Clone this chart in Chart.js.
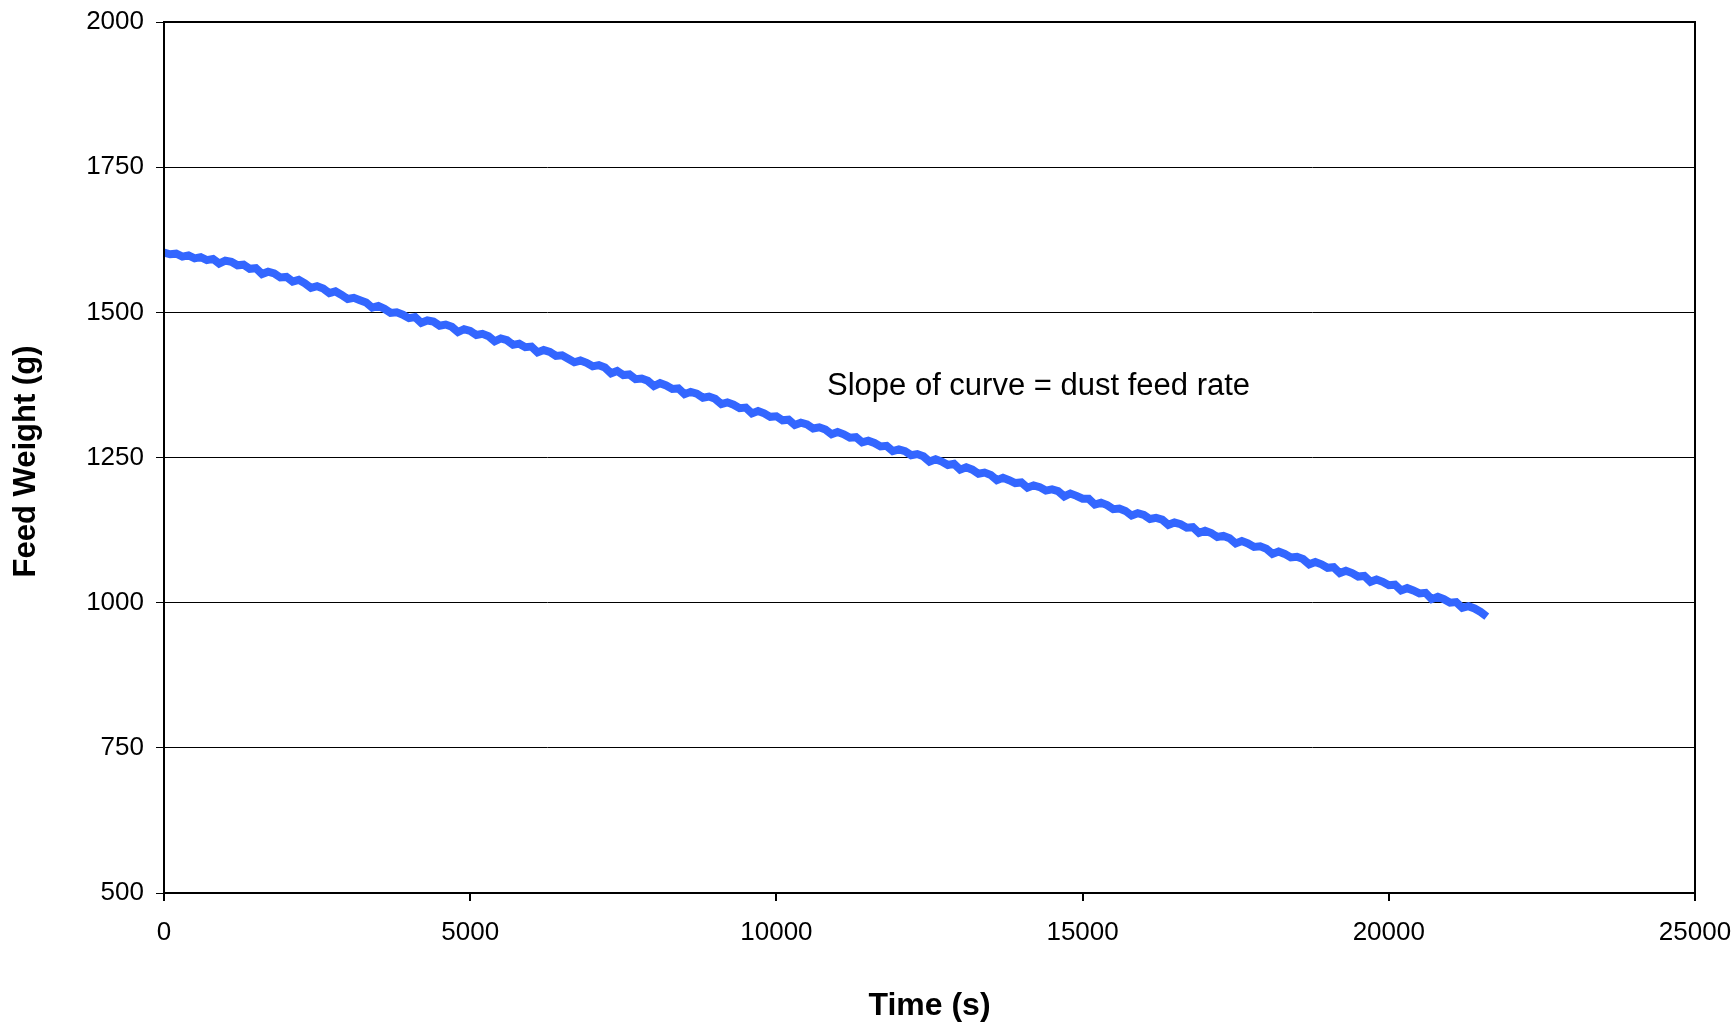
<!DOCTYPE html>
<html>
<head>
<meta charset="utf-8">
<script src="https://cdn.jsdelivr.net/npm/chart.js@4.4.1/dist/chart.umd.min.js"></script>
<style>
  html, body { margin: 0; padding: 0; background: #fff; }
  #wrap { width: 1734px; height: 1024px; }
</style>
</head>
<body>
<div id="wrap"><canvas id="canvas-feed-weight" width="1734" height="1024"></canvas></div>
<script>
// time (s), read every 100 s along the trace
const times = [
  0, 100, 200, 300, 400, 500, 600, 700, 800, 900,
  1000, 1100, 1200, 1300, 1400, 1500, 1600, 1700, 1800, 1900,
  2000, 2100, 2200, 2300, 2400, 2500, 2600, 2700, 2800, 2900,
  3000, 3100, 3200, 3300, 3400, 3500, 3600, 3700, 3800, 3900,
  4000, 4100, 4200, 4300, 4400, 4500, 4600, 4700, 4800, 4900,
  5000, 5100, 5200, 5300, 5400, 5500, 5600, 5700, 5800, 5900,
  6000, 6100, 6200, 6300, 6400, 6500, 6600, 6700, 6800, 6900,
  7000, 7100, 7200, 7300, 7400, 7500, 7600, 7700, 7800, 7900,
  8000, 8100, 8200, 8300, 8400, 8500, 8600, 8700, 8800, 8900,
  9000, 9100, 9200, 9300, 9400, 9500, 9600, 9700, 9800, 9900,
  10000, 10100, 10200, 10300, 10400, 10500, 10600, 10700, 10800, 10900,
  11000, 11100, 11200, 11300, 11400, 11500, 11600, 11700, 11800, 11900,
  12000, 12100, 12200, 12300, 12400, 12500, 12600, 12700, 12800, 12900,
  13000, 13100, 13200, 13300, 13400, 13500, 13600, 13700, 13800, 13900,
  14000, 14100, 14200, 14300, 14400, 14500, 14600, 14700, 14800, 14900,
  15000, 15100, 15200, 15300, 15400, 15500, 15600, 15700, 15800, 15900,
  16000, 16100, 16200, 16300, 16400, 16500, 16600, 16700, 16800, 16900,
  17000, 17100, 17200, 17300, 17400, 17500, 17600, 17700, 17800, 17900,
  18000, 18100, 18200, 18300, 18400, 18500, 18600, 18700, 18800, 18900,
  19000, 19100, 19200, 19300, 19400, 19500, 19600, 19700, 19800, 19900,
  20000, 20100, 20200, 20300, 20400, 20500, 20600, 20700, 20800, 20900,
  21000, 21100, 21200, 21300, 21400, 21500, 21600
];
// feed weight (g)
const weights = [
  1603, 1600, 1601, 1596, 1598, 1593, 1595, 1590, 1592, 1584,
  1589, 1587, 1581, 1582, 1575, 1576, 1566, 1570, 1567, 1560,
  1561, 1553, 1556, 1550, 1542, 1545, 1541, 1533, 1536, 1530,
  1523, 1525, 1521, 1517, 1508, 1511, 1506, 1499, 1500, 1496,
  1490, 1492, 1482, 1486, 1484, 1477, 1479, 1475, 1466, 1471,
  1468, 1461, 1463, 1459, 1450, 1455, 1452, 1444, 1446, 1440,
  1441, 1431, 1435, 1432, 1425, 1426, 1420, 1414, 1417, 1413,
  1407, 1409, 1405, 1395, 1399, 1392, 1393, 1385, 1386, 1382,
  1373, 1378, 1374, 1368, 1369, 1359, 1363, 1360, 1353, 1355,
  1351, 1342, 1345, 1341, 1335, 1336, 1326, 1330, 1326, 1320,
  1321, 1314, 1315, 1306, 1310, 1307, 1300, 1302, 1298, 1290,
  1294, 1290, 1284, 1285, 1276, 1279, 1275, 1269, 1270, 1261,
  1264, 1261, 1254, 1256, 1252, 1243, 1247, 1243, 1237, 1239,
  1229, 1233, 1229, 1222, 1224, 1220, 1211, 1215, 1211, 1206,
  1207, 1198, 1202, 1199, 1193, 1195, 1192, 1183, 1188, 1184,
  1179, 1179, 1169, 1172, 1168, 1161, 1162, 1158, 1150, 1154,
  1151, 1144, 1146, 1143, 1134, 1138, 1135, 1129, 1130, 1120,
  1124, 1120, 1113, 1115, 1111, 1102, 1106, 1102, 1096, 1097,
  1093, 1084, 1088, 1084, 1078, 1079, 1075, 1066, 1070, 1066,
  1060, 1061, 1051, 1055, 1051, 1045, 1046, 1036, 1040, 1036,
  1030, 1031, 1021, 1025, 1021, 1016, 1017, 1006, 1010, 1006,
  1000, 1001, 991, 994, 990, 984, 976
];
const xTicks = [0, 5000, 10000, 15000, 20000, 25000];
const yTicks = [500, 750, 1000, 1250, 1500, 1750, 2000];
const xTitle = "Time (s)";
const yTitle = "Feed Weight (g)";
const note = "Slope of curve = dust feed rate";

const FONT = "'Liberation Sans', Arial, sans-serif";

const extras = {
  id: "extras",
  afterDraw(chart) {
    const { ctx, chartArea: a } = chart;
    ctx.save();
    ctx.strokeStyle = "#000";
    ctx.lineWidth = 2;
    ctx.strokeRect(a.left, a.top, a.right - a.left, a.bottom - a.top);
    ctx.fillStyle = "#000";
    ctx.textAlign = "center";
    ctx.textBaseline = "middle";
    ctx.font = "bold 32px " + FONT;
    ctx.fillText(xTitle, (a.left + a.right) / 2, 1006);
    ctx.font = "bold 31px " + FONT;
    ctx.translate(26, (a.top + a.bottom) / 2 + 4);
    ctx.rotate(-Math.PI / 2);
    ctx.fillText(yTitle, 0, 0);
    ctx.restore();
    ctx.save();
    ctx.fillStyle = "#000";
    ctx.font = "31px " + FONT;
    ctx.textAlign = "left";
    ctx.textBaseline = "middle";
    ctx.fillText(note, 827, 386);
    ctx.restore();
  },
};

new Chart(document.getElementById("canvas-feed-weight"), {
  type: "line",
  plugins: [extras],
  data: {
    datasets: [
      {
        data: times.map((t, i) => ({ x: t, y: weights[i] })),
        borderColor: "#3366ff",
        borderWidth: 8,
        pointRadius: 0,
        tension: 0,
        fill: false,
      },
    ],
  },
  options: {
    responsive: false,
    animation: false,
    devicePixelRatio: 1,
    layout: { padding: { top: 22, right: 39, left: 0, bottom: 0 } },
    plugins: {
      legend: { display: false },
      tooltip: { enabled: false },
    },
    scales: {
      x: {
        type: "linear",
        min: 0,
        max: 25000,
        afterBuildTicks: (s) => { s.ticks = xTicks.map((v) => ({ value: v })); },
        afterFit: (s) => { s.height = 131; s.paddingLeft = 0; s.paddingRight = 0; },
        grid: { drawOnChartArea: false, drawTicks: true, tickLength: 8, color: "#000", lineWidth: 2 },
        border: { display: true, color: "#000", width: 2 },
        ticks: {
          color: "#000",
          font: { family: FONT, size: 26 },
          padding: 16,
          maxRotation: 0,
          callback: (v) => String(v),
        },
      },
      y: {
        min: 500,
        max: 2000,
        afterBuildTicks: (s) => { s.ticks = yTicks.map((v) => ({ value: v })); },
        afterFit: (s) => { s.width = 164; s.paddingTop = 0; s.paddingBottom = 0; },
        grid: { color: "#000", lineWidth: 1, tickLength: 8 },
        border: { display: true, color: "#000", width: 2 },
        ticks: {
          color: "#000",
          font: { family: FONT, size: 26 },
          padding: 12,
          callback: (v) => String(v),
        },
      },
    },
  },
});
</script>
</body>
</html>
